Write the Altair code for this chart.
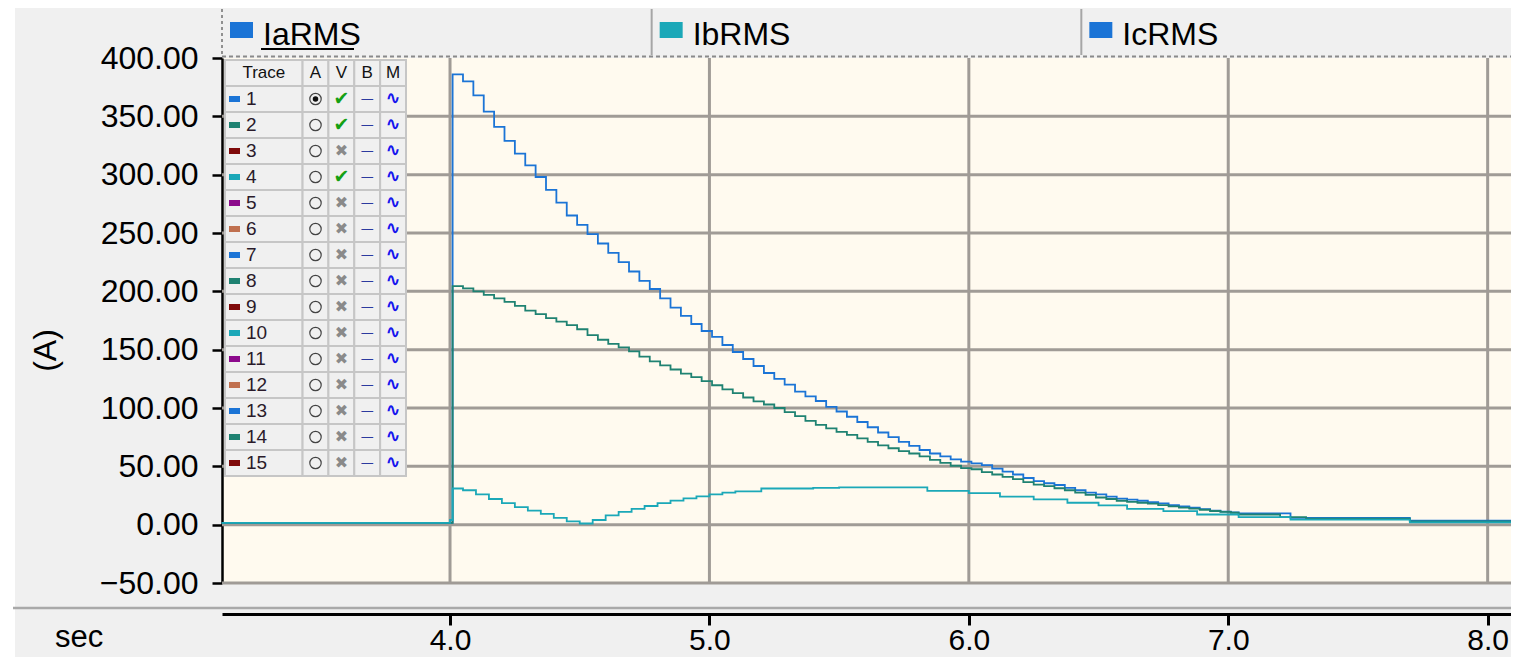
import altair as alt
import pandas as pd

# ---------------- data ----------------
# Trace 1 (blue)
ia_t = [3.12, 4.00,
        4.01, 4.05, 4.09, 4.13, 4.17, 4.21, 4.25, 4.29, 4.33, 4.37,
        4.41, 4.45, 4.49, 4.53, 4.57, 4.61, 4.65, 4.69, 4.73, 4.77,
        4.81, 4.85, 4.89, 4.93, 4.97, 5.01, 5.05, 5.09, 5.13, 5.17,
        5.21, 5.25, 5.29, 5.33, 5.37, 5.41, 5.45, 5.49, 5.53, 5.57,
        5.61, 5.65, 5.69, 5.73, 5.77, 5.81, 5.85, 5.89, 5.93, 5.97,
        6.01, 6.05, 6.09, 6.13, 6.17, 6.21, 6.25, 6.29, 6.33, 6.37,
        6.41, 6.45, 6.49, 6.53, 6.57, 6.61, 6.65, 6.69, 6.73, 6.77,
        6.81, 6.85, 6.89, 6.93, 6.97, 7.01,
        7.04, 7.24, 7.70, 8.10]
ia_v = [1.5, 1.5,
        386, 380, 368, 354, 341, 329, 318, 308, 298, 287,
        276, 265, 257, 249, 241, 233, 225, 217, 209, 202,
        194, 186, 179, 172, 166, 161, 154, 148, 142, 136,
        130, 125, 120, 114, 110, 106, 101, 97, 92.5, 88,
        83.5, 79, 75, 71, 67.5, 64, 61, 58.5, 56, 54,
        52.5, 51, 48, 45.5, 43, 40, 37.3, 35.5, 34, 31.5,
        29.5, 27.5, 26, 24, 22.3, 21.5, 20.5, 19.4, 18.2, 16.8,
        15.6, 14.5, 13.3, 12, 11.2, 10.5,
        9.6, 5.8, 3.5, 3.5]

# Trace 2 (green)
ib_t = [3.12, 4.00,
        4.01, 4.05, 4.09, 4.13, 4.17, 4.21, 4.25, 4.29, 4.33, 4.37,
        4.41, 4.45, 4.49, 4.53, 4.57, 4.61, 4.65, 4.69, 4.73, 4.77,
        4.81, 4.85, 4.89, 4.93, 4.97, 5.01, 5.05, 5.09, 5.13, 5.17,
        5.21, 5.25, 5.29, 5.33, 5.37, 5.41, 5.45, 5.49, 5.53, 5.57,
        5.61, 5.65, 5.69, 5.73, 5.77, 5.81, 5.85, 5.89, 5.93, 5.97,
        6.01, 6.05, 6.09, 6.13, 6.17, 6.21, 6.25, 6.29, 6.33, 6.37,
        6.41, 6.45, 6.49, 6.53, 6.57, 6.61, 6.65, 6.69, 6.73, 6.77,
        6.81, 6.85, 6.89, 6.93, 6.97, 7.01,
        7.04, 7.20, 7.30, 7.70, 8.10]
ib_v = [1.5, 1.5,
        204.5, 202.5, 200, 197, 194, 191, 187.5, 183.5, 180.5, 177,
        174, 171, 167.5, 162.5, 158.5, 155, 152, 148.5, 144, 140,
        136.5, 133, 129.5, 126.5, 123, 119.5, 116, 112.7, 109, 105.6,
        103, 100, 96.5, 93, 89, 85.5, 82.5, 79.5, 77, 74,
        71, 68, 65.5, 63, 61, 58.5, 55.5, 53, 50.5, 48.5,
        47.5, 45, 43, 41, 39, 36.5, 34.3, 33, 31.2, 29.5,
        27.5, 25.5, 23.3, 22, 20.5, 19.6, 18.8, 18, 16.8, 15.6,
        14.6, 13.8, 12.8, 11.7, 11, 10.2,
        8.7, 6.4, 5.2, 2.9, 2.9]

# Trace 4 (cyan)
ic_t = [3.12, 4.00, 4.01, 4.05, 4.10, 4.15, 4.20, 4.25, 4.30, 4.35, 4.40, 4.45, 4.50,
        4.55, 4.60, 4.65, 4.70, 4.75, 4.80, 4.85, 4.90, 4.95, 5.00,
        5.05, 5.10, 5.20, 5.40, 5.50, 5.84, 6.00, 6.12, 6.25, 6.38, 6.50,
        6.61, 6.75, 6.88, 7.04, 7.24, 7.70, 8.10]
ic_v = [1.5, 4, 31, 29.5, 26, 22, 18.5, 15, 12, 9.3, 5.8, 2.8, 1,
        4, 8, 11, 13.5, 16, 18.5, 20.6, 22.5, 24.3, 26,
        27.5, 28.5, 31, 31.5, 32, 29, 27, 24, 21.7, 18.8, 16.5,
        13.6, 11.6, 8.7, 6.4, 4.4, 2, 2]

x_ticks = [4, 5, 6, 7, 8]
y_ticks = [-50, 0, 50, 100, 150, 200, 250, 300, 350, 400]
h_grid = [-50, 0, 50, 100, 150, 200, 250, 300, 350]

tab_names = ["IaRMS", "IbRMS", "IcRMS"]
tab_colors = ["#1B74D6", "#1BA8B8", "#1B74D6"]

trace_ids = list(range(1, 16))
trace_colors = ["#1B74D6", "#1F8272", "#7F0A0A", "#1BA8B8", "#8C0A8C", "#C0704F",
                "#1B74D6", "#1F8272", "#7F0A0A", "#1BA8B8", "#8C0A8C", "#C0704F",
                "#1B74D6", "#1F8272", "#7F0A0A"]
trace_visible = [1, 2, 4]
trace_active = [1]
table_headers = ["Trace", "A", "V", "B", "M"]

# ---------------- layout ----------------
W, H = 1289, 525
FONT = "Liberation Sans"
SYM = "DejaVu Sans"
GRID = "#A09B96"

x_enc = alt.X("t:Q", scale=alt.Scale(domain=[3.121, 8.09], nice=False, zero=False),
              axis=alt.Axis(values=x_ticks, format=".1f", title=None, offset=31, grid=False,
                            domainColor="black", domainWidth=3, tickColor="black", tickWidth=3,
                            tickSize=11, labelFont=FONT, labelFontSize=30, labelColor="black",
                            labelPadding=0, labelFlush=False))
y_enc = alt.Y("v:Q", scale=alt.Scale(domain=[-50, 400], nice=False, zero=False),
              axis=alt.Axis(values=y_ticks, format=".2f", title="(A)", grid=False,
                            domainColor="black", domainWidth=2.5, tickColor="black", tickWidth=2.5,
                            tickSize=10, labelFont=FONT, labelFontSize=32, labelColor="black",
                            labelPadding=14, titleFont=FONT, titleFontSize=32,
                            titleFontWeight="normal", titleColor="black", titleX=-177, titleY=292,
                            titleAngle=270, titleAlign="center", titleBaseline="middle"))

vgrid = alt.Chart(pd.DataFrame({"t": x_ticks})).mark_rule(color=GRID, strokeWidth=3).encode(x=x_enc)
hgrid = alt.Chart(pd.DataFrame({"v": h_grid})).mark_rule(color=GRID, strokeWidth=3).encode(y=y_enc)


def line(ts, vs, color):
    return alt.Chart(pd.DataFrame({"t": ts, "v": vs})).mark_line(
        interpolate="step-after", color=color, strokeWidth=1.8).encode(x=x_enc, y=y_enc)


main = alt.layer(vgrid, hgrid,
                 line(ia_t, ia_v, "#1B74D6"),
                 line(ib_t, ib_v, "#1F8272"),
                 line(ic_t, ic_v, "#1BA8B8"))

# ---------------- tab strip & frame decorations ----------------
tab_df = pd.DataFrame({"i": [0, 1, 2], "name": tab_names, "color": tab_colors})
tx = alt.X("i:Q", scale=alt.Scale(domain=[0, 3], nice=False, zero=False), axis=None)
one = alt.Data(values=[{"k": 1}])

tab_sq = alt.Chart(tab_df).mark_rect(xOffset=8, x2Offset=31).encode(
    x=tx, x2=alt.X2("i"), y=alt.value(-36), y2=alt.value(-20),
    color=alt.Color("color:N", scale=None))
tab_txt = alt.Chart(tab_df).mark_text(align="left", baseline="alphabetic", dx=41,
                                      fontSize=32, font=FONT, color="black").encode(
    x=tx, y=alt.value(-13), text="name:N")
tab_ul = alt.Chart(tab_df.iloc[[0]]).mark_rule(xOffset=39, x2Offset=132, strokeWidth=2,
                                               color="black").encode(
    x=tx, x2=alt.X2("i"), y=alt.value(-9))
tab_sep = alt.Chart(tab_df.iloc[[1, 2]]).mark_rule(color="#A6A6A6", strokeWidth=2).encode(
    x=tx, y=alt.value(-49), y2=alt.value(-3))
tab_left = alt.Chart(one).mark_rule(color="#707070", strokeWidth=1.5, strokeDash=[3, 3]).encode(
    x=alt.value(0), y=alt.value(-49), y2=alt.value(-2))
tab_bottom = alt.Chart(one).mark_rule(color="#8A8A8A", strokeWidth=2, strokeDash=[4, 3]).encode(
    x=alt.value(0), x2=alt.value(W), y=alt.value(-1.5))
sep_line = alt.Chart(one).mark_rule(color="#A9A9A9", strokeWidth=2.5).encode(
    x=alt.value(-209), x2=alt.value(W), y=alt.value(550))
white_strip = alt.Chart(one).mark_rect(color="white").encode(
    x=alt.value(-214), x2=alt.value(-207), y=alt.value(-50), y2=alt.value(610))
sec_txt = alt.Chart(one).mark_text(align="left", baseline="alphabetic", fontSize=31, font=FONT,
                                   color="black", text="sec").encode(
    x=alt.value(-167), y=alt.value(589))

tabs = alt.layer(white_strip, sep_line, tab_bottom, tab_left, tab_sep, tab_sq, tab_txt, tab_ul, sec_txt)

# ---------------- trace table ----------------
U = 181 / 7.0   # px per column unit
R = 26.0        # px per row
col_edges = [(0, 3), (3, 4), (4, 5), (5, 6), (6, 7)]
col_centers = [1.5, 3.5, 4.5, 5.5, 6.5]
ux = alt.Scale(domain=[-3 / U, (W - 3) / U], nice=False, zero=False)
uy = alt.Scale(domain=[-2 / R, (H - 2) / R], nice=False, zero=False, reverse=True)

cells = pd.DataFrame([{"x0": c0, "x1": c1, "y0": r, "y1": r + 1}
                      for r in range(16) for (c0, c1) in col_edges])
rows = pd.DataFrame({
    "num": [str(n) for n in trace_ids],
    "color": trace_colors,
    "y0": trace_ids,
    "y1": [n + 1 for n in trace_ids],
    "ym": [n + 0.5 for n in trace_ids],
    "xs": [0] * 15,
    "xa": [3.5] * 15, "xv": [4.5] * 15, "xb": [5.5] * 15, "xm": [6.5] * 15,
    "check": ["✔" if n in trace_visible else "✖" for n in trace_ids],
    "ccol": ["#14A014" if n in trace_visible else "#8A8A8A" for n in trace_ids],
    "csize": [19 if n in trace_visible else 16 for n in trace_ids],
})
hdr = pd.DataFrame({"h": table_headers, "xc": col_centers, "ym": [0.5] * 5})

t_cells = alt.Chart(cells).mark_rect(fill="#F0F0F0", stroke="#C6C6C6", strokeWidth=2).encode(
    x=alt.X("x0:Q", scale=ux, axis=None), x2="x1", y=alt.Y("y0:Q", scale=uy, axis=None), y2="y1")
t_sw = alt.Chart(rows).mark_rect(xOffset=4, x2Offset=15, yOffset=10, y2Offset=-10).encode(
    x=alt.X("xs:Q", scale=ux, axis=None), x2="xs", y=alt.Y("y0:Q", scale=uy, axis=None), y2="y1",
    color=alt.Color("color:N", scale=None))
t_num = alt.Chart(rows).mark_text(align="left", baseline="middle", dx=21, fontSize=19, font=FONT,
                                  color="#2A1A2A").encode(
    x=alt.X("xs:Q", scale=ux, axis=None), y=alt.Y("ym:Q", scale=uy, axis=None), text="num:N")
t_hdr = alt.Chart(hdr).mark_text(align="center", baseline="middle", fontSize=17, font=FONT,
                                 color="#111111").encode(
    x=alt.X("xc:Q", scale=ux, axis=None), y=alt.Y("ym:Q", scale=uy, axis=None), text="h:N")
t_radio = alt.Chart(rows).mark_point(shape="circle", size=130, filled=False, stroke="#444444",
                                     strokeWidth=1.2, opacity=1).encode(
    x=alt.X("xa:Q", scale=ux, axis=None), y=alt.Y("ym:Q", scale=uy, axis=None))
t_dot = alt.Chart(rows[rows["num"].isin([str(a) for a in trace_active])]).mark_point(
    shape="circle", size=30, filled=True, color="#111111", opacity=1).encode(
    x=alt.X("xa:Q", scale=ux, axis=None), y=alt.Y("ym:Q", scale=uy, axis=None))
t_check = alt.Chart(rows).mark_text(align="center", baseline="middle", font=SYM,
                                    fontWeight="bold").encode(
    x=alt.X("xv:Q", scale=ux, axis=None), y=alt.Y("ym:Q", scale=uy, axis=None), text="check:N",
    color=alt.Color("ccol:N", scale=None), size=alt.Size("csize:Q", scale=None))
t_dash = alt.Chart(rows).mark_text(align="center", baseline="middle", fontSize=13, font=SYM,
                                   color="#2B3A9F", text="—").encode(
    x=alt.X("xb:Q", scale=ux, axis=None), y=alt.Y("ym:Q", scale=uy, axis=None))
t_wave = alt.Chart(rows).mark_text(align="center", baseline="middle", fontSize=18, font=SYM,
                                   color="#1515EE", fontWeight="bold", text="∿").encode(
    x=alt.X("xm:Q", scale=ux, axis=None), y=alt.Y("ym:Q", scale=uy, axis=None))

table = alt.layer(t_cells, t_sw, t_num, t_hdr, t_radio, t_dot, t_check, t_dash, t_wave)

chart = alt.layer(main, tabs, table).resolve_scale(
    x="independent", y="independent"
).properties(
    width=W, height=H,
    autosize=alt.AutoSizeParams(type="none"),
    padding={"left": 214, "top": 50, "right": 0, "bottom": 74},
    background="#F0F0F0",
).configure_view(fill="#FFFAEF", strokeWidth=0)

chart.save("out.html", embed_options={"renderer": "svg", "actions": False})
